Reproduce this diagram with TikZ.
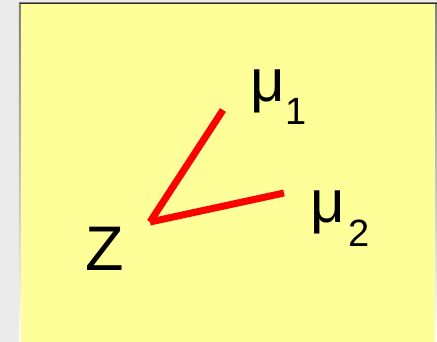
\documentclass[tikz,border=0pt]{standalone}
\usepackage{fontspec}
\setmainfont{Liberation Sans}
\definecolor{bggray}{HTML}{EBEBEB}
\definecolor{paper}{HTML}{FFFF99}
\definecolor{shade}{HTML}{6E6E5A}
\definecolor{redline}{HTML}{FF0000}
\tikzset{
  px/.style={x=1pt,y=-1pt},
  lbl/.style={anchor=base west,inner sep=0pt,outer sep=0pt,text=black},
  vec/.style={draw=redline,line width=7pt,line cap=butt}
}
\begin{document}
\begin{tikzpicture}[px]
\useasboundingbox (0,0) rectangle (437,342);
\fill[bggray] (0,0) rectangle (437,342);
\fill[shade] (18.8,3) rectangle (437,342);
\fill[paper] (21.2,4) rectangle (434.5,342);
\fill[black!85] (20,2.6) rectangle (436.5,4);
\node[lbl,font=\fontsize{63}{63}\selectfont] (Z) at (85.5,270) {Z};
\node[lbl,font=\fontsize{60}{60}\selectfont] (mu1) at (250.5,102) {μ};
\node[lbl,font=\fontsize{38}{38}\selectfont] (s1) at (285.5,125) {1};
\node[lbl,font=\fontsize{60}{60}\selectfont] (mu2) at (310.5,223) {μ};
\node[lbl,font=\fontsize{38}{38}\selectfont] (s2) at (348.5,247) {2};
\coordinate (z) at (150,222);
\coordinate (m1) at (223,110);
\coordinate (m2) at (284,193);
\draw[vec] (z) -- (m1);
\draw[vec] (z) -- (m2);
\end{tikzpicture}
\end{document}
